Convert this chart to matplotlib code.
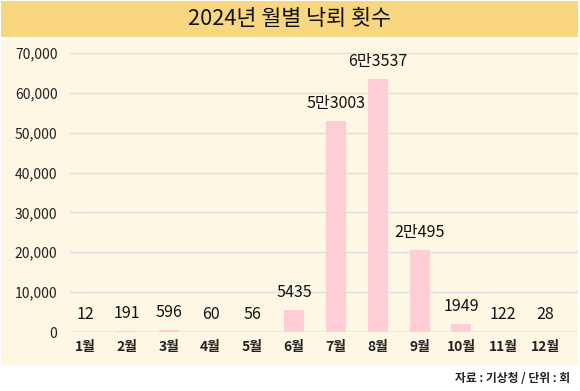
import matplotlib
matplotlib.use("Agg")
import matplotlib.pyplot as plt
from matplotlib.patches import Rectangle

plt.rcParams['font.family'] = ['Noto Sans CJK KR', 'DejaVu Sans']

# ============
#  DATA
# ============
months = ["1월", "2월", "3월", "4월", "5월", "6월",
          "7월", "8월", "9월", "10월", "11월", "12월"]
counts = [12, 191, 596, 60, 56, 5435, 53003, 63537, 20495, 1949, 122, 28]
count_labels = ["12", "191", "596", "60", "56", "5435",
                "5만3003", "6만3537", "2만495", "1949", "122", "28"]
y_ticks = [0, 10000, 20000, 30000, 40000, 50000, 60000, 70000]

TITLE = "2024년 월별 낙뢰 횟수"
SOURCE = "자료 : 기상청 / 단위 : 회"

W, H = 580, 391
fig = plt.figure(figsize=(W / 100, H / 100), dpi=100)
fig.patch.set_facecolor("white")

# title band + cream panel (drawn behind the axes)
fig.patches.append(Rectangle((1 / W, 1 - 37 / H), 577 / W, 36 / H,
                             transform=fig.transFigure, facecolor="#F9D680",
                             edgecolor="none", zorder=-5))
fig.patches.append(Rectangle((1 / W, 1 - 365 / H), 577 / W, 325 / H,
                             transform=fig.transFigure, facecolor="#FDF7E3",
                             edgecolor="none", zorder=-5))
fig.text(0.5, 1 - 19 / H, TITLE, ha="center", va="center",
         fontsize=15.7, fontweight="medium", color="#111111")

ax = fig.add_axes([70 / W, 59 / H, 508 / W, 279 / H])
ax.set_zorder(2)
ax.set_facecolor("none")
x = list(range(len(months)))
ax.bar(x, counts, width=0.48, color="#FFCDD6", zorder=2)

ax.set_ylim(0, 70000)
ax.set_xlim(-0.36, 11.79)
ax.set_yticks(y_ticks)
ax.set_yticklabels([f"{v:,}" for v in y_ticks], fontsize=10, color="#222222")
ax.set_xticks(x)
ax.set_xticklabels(months, fontsize=10, fontweight="bold", color="#222222")
ax.tick_params(axis="both", length=0)
ax.tick_params(axis="y", pad=9)
ax.tick_params(axis="x", pad=6)
ax.grid(axis="y", color="#D9DEE8", linewidth=1, zorder=0)
ax.axhline(0, color="#CBD4E2", linewidth=1, zorder=1)
for s in ax.spines.values():
    s.set_visible(False)

# value labels sit a fixed distance above each bar
for xi, v, lab in zip(x, counts, count_labels):
    ax.annotate(lab, (xi, v), xytext=(0, 12.5), textcoords="offset points",
                ha="center", va="center", fontsize=11.5, color="#111111",
                annotation_clip=False)

fig.text(570 / W, 1 - 378 / H, SOURCE, ha="right", va="center",
         fontsize=8.5, fontweight="bold", color="#222222")

fig.savefig("out.png", dpi=100)
